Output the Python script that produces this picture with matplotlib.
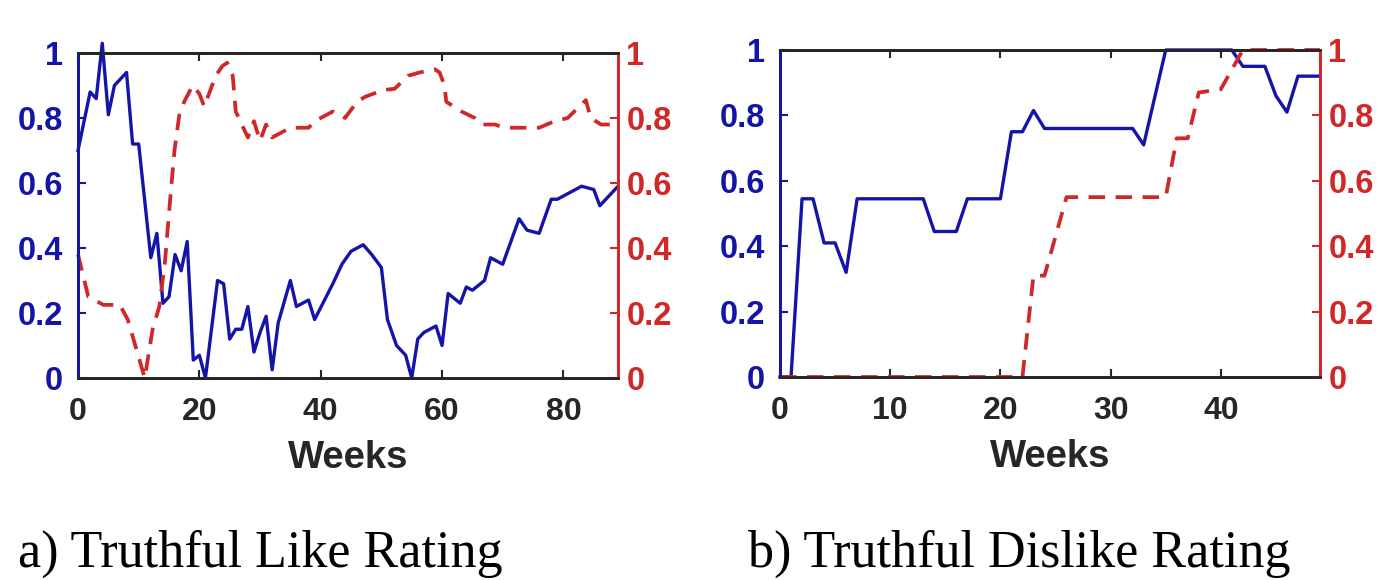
import matplotlib
matplotlib.use("Agg")
import matplotlib.pyplot as plt

# ---- data ----
like_blue_x = [0, 1, 2, 3, 4, 5, 6, 8, 9, 10, 12, 13, 14, 15, 16, 17, 18, 19, 20, 21,
               23, 24, 25, 26, 27, 28, 29, 30, 31, 32, 33, 35, 36, 38, 39, 42, 43.5, 45,
               47, 48.4, 50, 51, 52.5, 54, 55, 56, 57, 59, 60, 61, 63, 64, 65, 67, 68, 70,
               72.7, 74, 76, 78, 79, 81, 83, 85, 86, 87, 89]
like_blue_y = [0.70, 0.79, 0.88, 0.86, 1.03, 0.81, 0.90, 0.94, 0.72, 0.72, 0.37, 0.445,
               0.23, 0.25, 0.38, 0.33, 0.42, 0.055, 0.07, 0.0, 0.30, 0.29, 0.12, 0.15,
               0.15, 0.22, 0.08, 0.14, 0.19, 0.025, 0.17, 0.30, 0.22, 0.24, 0.18, 0.29,
               0.35, 0.39, 0.41, 0.38, 0.34, 0.18, 0.10, 0.07, 0.0, 0.12, 0.14, 0.16, 0.10,
               0.26, 0.23, 0.28, 0.27, 0.30, 0.37, 0.35, 0.49, 0.455, 0.445, 0.55, 0.55,
               0.57, 0.59, 0.58, 0.53, 0.55, 0.59]

like_red_x = [0, 1.7, 4.2, 6.9, 8.2, 9.6, 11, 12.3, 13.4, 14.3, 15.1, 15.9, 16.7, 17.5,
              18.9, 20, 20.8, 21.6, 22.7, 23.8, 24.6, 25.5, 26, 27, 28, 29, 30, 31, 32,
              33, 35, 38, 39, 42, 44, 46, 47.3, 50.3, 52.2, 54.4, 56.3, 58.8, 59.6, 60.4,
              60.7, 63.2, 65.4, 66.5, 68.7, 70.3, 73.6, 76, 78.5, 80.7, 82.6, 83.7, 84.5,
              86.2, 89]
like_red_y = [0.38, 0.25, 0.225, 0.225, 0.18, 0.09, 0.0, 0.15, 0.22, 0.35, 0.53, 0.70,
              0.81, 0.85, 0.90, 0.875, 0.835, 0.875, 0.93, 0.96, 0.97, 0.93, 0.82, 0.78,
              0.74, 0.79, 0.73, 0.78, 0.74, 0.75, 0.77, 0.77, 0.79, 0.82, 0.80, 0.85,
              0.865, 0.886, 0.89, 0.93, 0.94, 0.95, 0.94, 0.90, 0.85, 0.82, 0.80, 0.78,
              0.78, 0.77, 0.77, 0.77, 0.79, 0.80, 0.835, 0.855, 0.80, 0.78, 0.78]

dis_blue_x = [0, 1, 2, 3, 4, 5, 6, 7, 13, 14, 16, 17, 20, 21, 22, 23, 24, 32, 33, 35,
              41, 42, 44, 45, 46, 47, 49]
dis_blue_y = [0, 0, 0.545, 0.545, 0.41, 0.41, 0.32, 0.545, 0.545, 0.445, 0.445, 0.545,
              0.545, 0.75, 0.75, 0.815, 0.76, 0.76, 0.71, 1.0, 1.0, 0.95, 0.95, 0.86,
              0.81, 0.92, 0.92]

dis_red_x = [0, 22, 23, 24, 26, 35, 36, 37, 38, 40, 42, 49]
dis_red_y = [0, 0, 0.31, 0.31, 0.55, 0.55, 0.73, 0.73, 0.87, 0.88, 1.0, 1.0]

like_xticks = [0, 20, 40, 60, 80]
dis_xticks = [0, 10, 20, 30, 40]
y_ticks = [0, 0.2, 0.4, 0.6, 0.8, 1]
y_ticklabels = ["0", "0.2", "0.4", "0.6", "0.8", "1"]
captions = ["a) Truthful Like Rating", "b) Truthful Dislike Rating"]
xlabel = "Weeks"

# ---- style ----
BLUE = "#1414A8"
RED = "#D02828"
DARK = "#262626"
SANS = "Liberation Sans"
SERIF = "Liberation Serif"

fig = plt.figure(figsize=(13.83, 5.80), dpi=100)

panels = [
    ([78 / 1383, (580 - 378) / 580, 540 / 1383, 325 / 580], like_blue_x, like_blue_y,
     like_red_x, like_red_y, like_xticks, 89, 18 / 1383, captions[0]),
    ([780 / 1383, (580 - 377) / 580, 540 / 1383, 327 / 580], dis_blue_x, dis_blue_y,
     dis_red_x, dis_red_y, dis_xticks, 49, 748 / 1383, captions[1]),
]

for rect, bx, by, rx, ry, xt, xmax, capx, cap in panels:
    ax = fig.add_axes(rect)
    ax2 = ax.twinx()
    ax.plot(bx, by, color=BLUE, lw=2.4, clip_on=False, zorder=3)
    ax2.plot(rx, ry, color=RED, lw=2.7, linestyle=(0, (4.4, 2.8)), clip_on=False)
    for a in (ax, ax2):
        a.set_xlim(0, xmax)
        a.set_ylim(0, 1)
    ax.set_xticks(xt)
    ax.set_xticklabels([str(v) for v in xt], fontfamily=SANS, fontweight="bold",
                       fontsize=23, color=DARK)
    ax.set_yticks(y_ticks)
    ax.set_yticklabels(y_ticklabels, fontfamily=SANS, fontweight="bold",
                       fontsize=23.5, color=BLUE)
    ax2.set_yticks(y_ticks)
    ax2.set_yticklabels(y_ticklabels, fontfamily=SANS, fontweight="bold",
                        fontsize=23.5, color=RED)
    ax.tick_params(axis="x", direction="in", length=6, width=1.5, color=DARK,
                   top=True, pad=14)
    ax.tick_params(axis="y", direction="in", length=6, width=1.5, color=BLUE, pad=11)
    ax2.tick_params(axis="y", direction="in", length=6, width=1.5, color=RED, pad=6)
    for a in (ax, ax2):
        a.spines["top"].set_color(DARK)
        a.spines["bottom"].set_color(DARK)
        a.spines["left"].set_color(BLUE)
        a.spines["right"].set_color(RED)
        for s in a.spines.values():
            s.set_linewidth(2.0)
    ax.set_xlabel(xlabel, fontfamily=SANS, fontweight="bold", fontsize=27.5,
                  color=DARK, labelpad=9)
    fig.text(capx, 13 / 580, cap, fontfamily=SERIF, fontsize=37.5, color="black",
             ha="left", va="baseline")

fig.savefig("out.png", dpi=100)
